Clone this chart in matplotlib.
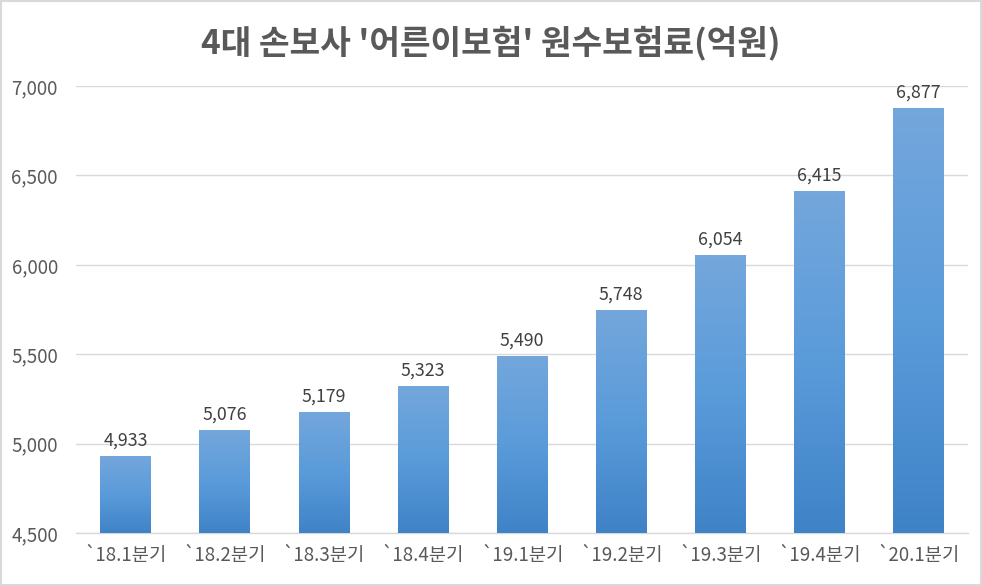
import matplotlib
matplotlib.use("Agg")
import matplotlib.pyplot as plt
import numpy as np
from matplotlib.colors import LinearSegmentedColormap
from matplotlib.patches import Rectangle

plt.rcParams['font.family'] = ['Noto Sans CJK KR', 'DejaVu Sans']

categories = ["`18.1분기", "`18.2분기", "`18.3분기", "`18.4분기", "`19.1분기",
              "`19.2분기", "`19.3분기", "`19.4분기", "`20.1분기"]
values = [4933, 5076, 5179, 5323, 5490, 5748, 6054, 6415, 6877]
yticks = [4500, 5000, 5500, 6000, 6500, 7000]
title = "4대 손보사 '어른이보험' 원수보험료(억원)"

fig = plt.figure(figsize=(9.82, 5.86), dpi=100)
ax = fig.add_axes([76/982, 53/586, (968-76)/982, (533-86)/586])
ax.set_xlim(-0.5, len(categories) - 0.5)
ax.set_ylim(4500, 7000)

cmap = LinearSegmentedColormap.from_list("g", ["#3F83C7", "#5A9BDA", "#74A7DC"])
grad = np.linspace(0, 1, 256).reshape(-1, 1)

bars = ax.bar(range(len(categories)), values, width=0.51, bottom=0, color="none",
              edgecolor="none", zorder=3)
for b in bars:
    x0, w, h = b.get_x(), b.get_width(), b.get_height()
    im = ax.imshow(grad, cmap=cmap, aspect="auto", origin="lower",
                   extent=(x0, x0 + w, 4500, h), zorder=3)
    clip = Rectangle((x0, 4500), w, h - 4500, transform=ax.transData)
    im.set_clip_path(clip)
ax.set_xlim(-0.5, len(categories) - 0.5)
ax.set_ylim(4500, 7000)

for i, v in enumerate(values):
    ax.text(i, v + 35, f"{v:,}", ha="center", va="bottom", fontsize=12.8, color="#404040")

ax.set_yticks(yticks)
ax.set_yticklabels([f"{t:,}" for t in yticks], fontsize=13.5, color="#595959")
ax.set_xticks(range(len(categories)))
ax.set_xticklabels(categories, fontsize=13.5, color="#595959")
ax.tick_params(axis="both", length=0)
ax.tick_params(axis="y", pad=13)
ax.tick_params(axis="x", pad=9)
ax.yaxis.grid(True, color="#D9D9D9", linewidth=1)
ax.set_axisbelow(True)
for s in ["top", "right", "left"]:
    ax.spines[s].set_visible(False)
ax.spines["bottom"].set_color("#D9D9D9")
ax.spines["bottom"].set_linewidth(1)

fig.text(0.5, 1 - 43/586, title, ha="center", va="center", fontsize=24,
         fontweight="bold", color="#595959")

fig.patches.append(Rectangle((0.001, 0.001), 0.998, 0.997, transform=fig.transFigure,
                             fill=False, edgecolor="#D9D9D9", linewidth=1.5))

fig.savefig("out.png", dpi=100)
